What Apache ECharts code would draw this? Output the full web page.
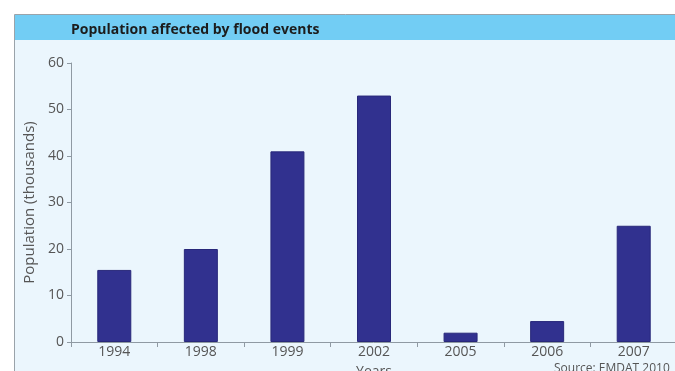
<!DOCTYPE html>
<html>
<head>
<meta charset="utf-8">
<script src="https://cdn.jsdelivr.net/npm/echarts@6/dist/echarts.min.js"></script>
<style>
html,body{margin:0;padding:0;background:#fff;}
#c{width:675px;height:371px;}
</style>
</head>
<body>
<div id="c"></div>
<script>
const categories = ['1994', '1998', '1999', '2002', '2005', '2006', '2007'];
const population = [15.5, 20, 41, 53, 2, 4.5, 25];
const yTicks = { min: 0, max: 60, interval: 10 };
const titleText = 'Population affected by flood events';
const yName = 'Population (thousands)';
const xName = 'Years';
const sourceText = 'Source: EMDAT 2010';

const chart = echarts.init(document.getElementById('c'), null, { renderer: 'canvas' });
const font = '"Open Sans", "Noto Sans", sans-serif';
chart.setOption({
  animation: false,
  backgroundColor: '#ffffff',
  graphic: [
    { type: 'rect', z: -10, shape: { x: 14.5, y: 14.5, width: 700, height: 400 },
      style: { fill: '#ebf6fd', stroke: '#9aa3aa', lineWidth: 1 } },
    { type: 'rect', z: -9, shape: { x: 15, y: 15, width: 700, height: 25 },
      style: { fill: '#72cdf4' } },
    { type: 'text', z: 10, left: 554, top: 363,
      style: { text: sourceText, fill: '#555', font: '12px ' + font } }
  ],
  title: {
    text: titleText, left: 66, top: 18,
    textStyle: { fontFamily: font, fontSize: 14, fontWeight: 'bold', color: '#1c1c1c' }
  },
  grid: { left: 71, right: -2, top: 63, bottom: 29, containLabel: false, outerBoundsMode: 'none' },
  xAxis: {
    type: 'category', data: categories,
    name: xName, nameLocation: 'middle', nameGap: 23,
    nameTextStyle: { fontFamily: font, fontSize: 14, color: '#555' },
    axisLine: { lineStyle: { color: '#8f9aa3', width: 1 } },
    axisTick: { show: true, alignWithLabel: false, length: 5, lineStyle: { color: '#8f9aa3' } },
    axisLabel: { fontFamily: font, fontSize: 14, color: '#555', margin: 3 }
  },
  yAxis: {
    type: 'value', min: yTicks.min, max: yTicks.max, interval: yTicks.interval,
    name: yName, nameLocation: 'middle', nameGap: 34, nameRotate: 90,
    nameTextStyle: { fontFamily: font, fontSize: 15, color: '#555' },
    axisLine: { show: true, lineStyle: { color: '#8f9aa3', width: 1 } },
    axisTick: { show: true, length: 4, lineStyle: { color: '#8f9aa3' } },
    axisLabel: { fontFamily: font, fontSize: 14, color: '#555', margin: 7 },
    splitLine: { show: false }
  },
  series: [{
    type: 'bar', data: population, barWidth: 34,
    itemStyle: { color: '#31318f', borderColor: '#28287a', borderWidth: 1 }
  }]
});
</script>
</body>
</html>
